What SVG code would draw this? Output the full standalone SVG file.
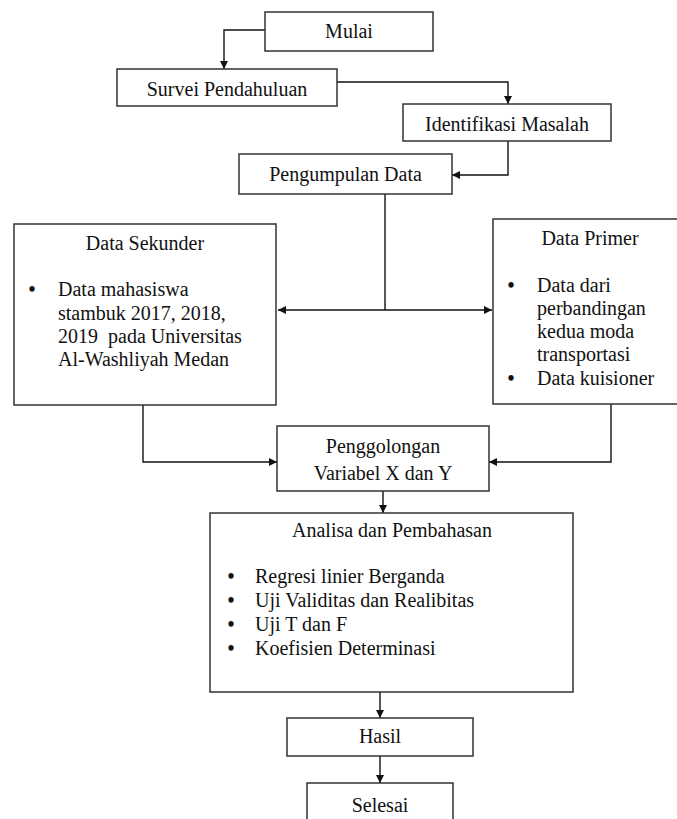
<svg xmlns="http://www.w3.org/2000/svg" width="677" height="819" viewBox="0 0 677 819">
<style>
.box{fill:#fff;stroke:#333;stroke-width:1.5}
.t{font-family:"Liberation Serif","Times New Roman",serif;font-size:20px;fill:#111;white-space:pre}
.c{text-anchor:middle}
.b{text-anchor:middle;font-weight:bold}
.ln{fill:none;stroke:#111;stroke-width:1.4}
</style>
<defs>
<marker id="ah" viewBox="0 0 10 10" refX="10" refY="5" markerWidth="8" markerHeight="8" markerUnits="userSpaceOnUse" orient="auto">
<path d="M0,0 L10,5 L0,10 z" fill="#111"/>
</marker>
</defs>
<rect width="677" height="819" fill="#fff"/>
<g id="connectors">
<path class="ln" d="M265,30 H224 V69" marker-end="url(#ah)"/>
<path class="ln" d="M337,82 H508 V104" marker-end="url(#ah)"/>
<path class="ln" d="M508,141 V175 H452" marker-end="url(#ah)"/>
<path class="ln" d="M385,194 V310"/>
<path class="ln" d="M385,310 H278" marker-end="url(#ah)"/>
<path class="ln" d="M385,310 H492" marker-end="url(#ah)"/>
<path class="ln" d="M143,405 V462 H277" marker-end="url(#ah)"/>
<path class="ln" d="M611,404 V462 H489" marker-end="url(#ah)"/>
<path class="ln" d="M383,491 V513" marker-end="url(#ah)"/>
<path class="ln" d="M380,692 V718" marker-end="url(#ah)"/>
<path class="ln" d="M380,756 V783" marker-end="url(#ah)"/>
</g>
<g id="mulai">
<rect class="box" x="265" y="12" width="168" height="39"/>
<text class="t c" x="349" y="38">Mulai</text>
</g>
<g id="survei">
<rect class="box" x="117" y="69" width="220" height="37"/>
<text class="t c" x="227" y="96">Survei Pendahuluan</text>
</g>
<g id="identifikasi">
<rect class="box" x="403" y="104" width="208" height="37"/>
<text class="t c" x="507" y="131">Identifikasi Masalah</text>
</g>
<g id="pengumpulan">
<rect class="box" x="239" y="154" width="213" height="40"/>
<text class="t c" x="345.5" y="181">Pengumpulan Data</text>
</g>
<g id="sekunder">
<rect class="box" x="14" y="224" width="262" height="181"/>
<text class="t c" x="145" y="250">Data Sekunder</text>
<text class="t b" x="32" y="296">•</text>
<text class="t" x="58" y="296">Data mahasiswa</text>
<text class="t" x="58" y="320">stambuk 2017, 2018,</text>
<text class="t" x="58" y="343">2019  pada Universitas</text>
<text class="t" x="58" y="366">Al-Washliyah Medan</text>
</g>
<g id="primer">
<rect class="box" x="493" y="219" width="200" height="185"/>
<text class="t c" x="590" y="245">Data Primer</text>
<text class="t b" x="511" y="292">•</text>
<text class="t" x="537" y="292">Data dari</text>
<text class="t" x="537" y="315">perbandingan</text>
<text class="t" x="537" y="338">kedua moda</text>
<text class="t" x="537" y="361">transportasi</text>
<text class="t b" x="511" y="385">•</text>
<text class="t" x="537" y="385">Data kuisioner</text>
</g>
<g id="penggolongan">
<rect class="box" x="277" y="426" width="212" height="65"/>
<text class="t c" x="383" y="453">Penggolongan</text>
<text class="t c" x="383" y="480">Variabel X dan Y</text>
</g>
<g id="analisa">
<rect class="box" x="210" y="513" width="363" height="179"/>
<text class="t c" x="392" y="537">Analisa dan Pembahasan</text>
<text class="t b" x="231" y="583">•</text>
<text class="t" x="255" y="583">Regresi linier Berganda</text>
<text class="t b" x="231" y="607">•</text>
<text class="t" x="255" y="607">Uji Validitas dan Realibitas</text>
<text class="t b" x="231" y="631">•</text>
<text class="t" x="255" y="631">Uji T dan F</text>
<text class="t b" x="231" y="655">•</text>
<text class="t" x="255" y="655">Koefisien Determinasi</text>
</g>
<g id="hasil">
<rect class="box" x="287" y="718" width="186" height="38"/>
<text class="t c" x="380" y="743">Hasil</text>
</g>
<g id="selesai">
<rect class="box" x="307" y="783" width="146" height="50"/>
<text class="t c" x="380" y="812">Selesai</text>
</g>
</svg>
